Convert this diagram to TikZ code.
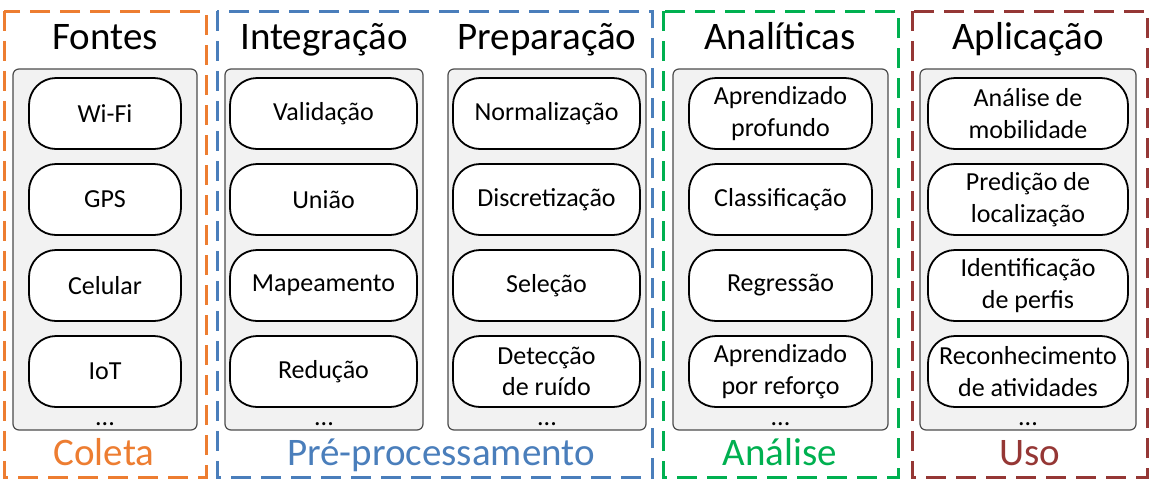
\documentclass[tikz,border=0pt]{standalone}
\usepackage{fontspec}
\setmainfont{Carlito}
\definecolor{corange}{HTML}{ED7D31}
\definecolor{cblue}{HTML}{4A7EBB}
\definecolor{cgreen}{HTML}{00B050}
\definecolor{cred}{HTML}{953735}
\definecolor{panelfill}{HTML}{F2F2F2}
\begin{document}
\begin{tikzpicture}[x=1pt,y=-1pt,
 group/.style={line width=3pt, dash pattern=on 20pt off 10pt},
 panel/.style={draw=black!70, fill=panelfill, line width=1.2pt, rounded corners=6pt},
 pill/.style={draw=black, fill=white, line width=1.8pt, rounded corners=27pt, minimum height=71pt, align=center, inner sep=0pt, font=\fontsize{26}{31.5}\selectfont},
 title/.style={anchor=base, font=\fontsize{39}{47}\selectfont},
 dots/.style={anchor=base, font=\fontsize{26}{31}\selectfont}]
\useasboundingbox (0,0) rectangle (1151,499);

% dashed groups
\draw[group, draw=corange] (4,11) rectangle (206,477);
\draw[group, draw=cblue] (217,11) rectangle (652,477);
\draw[group, draw=cgreen] (663,11) rectangle (898,477);
\draw[group, draw=cred] (912,11) rectangle (1147,477);

% panels
\draw[panel] (13,69) rectangle (197,430);
\draw[panel] (225,69) rectangle (423,430);
\draw[panel] (448,69) rectangle (646,430);
\draw[panel] (673,69) rectangle (888,430);
\draw[panel] (920,69) rectangle (1136,430);

% titles
\node[title] (tFontes) at (105,49) {Fontes};
\node[title] (tInteg) at (324,49) {Integração};
\node[title] (tPrep) at (547,49) {Preparação};
\node[title] (tAnal) at (780,49) {Analíticas};
\node[title] (tApl) at (1028,49) {Aplicação};

% bottom labels
\node[title, text=corange] (bColeta) at (104,465) {Coleta};
\node[title, text=cblue] (bPre) at (441,465) {Pré-processamento};
\node[title, text=cgreen] (bAnalise) at (780,465) {Análise};
\node[title, text=cred] (bUso) at (1030,465) {Uso};

% pills: Fontes
\node[pill, minimum width=152pt] (f1) at (105,113.5) {Wi-Fi};
\node[pill, minimum width=152pt] (f2) at (105,199.5) {GPS};
\node[pill, minimum width=152pt] (f3) at (105,285.5) {Celular};
\node[pill, minimum width=152pt] (f4) at (105,371.5) {IoT};
% Integração
\node[pill, minimum width=187pt] (i1) at (323.5,113.5) {Validação};
\node[pill, minimum width=187pt] (i2) at (323.5,199.5) {União};
\node[pill, minimum width=187pt] (i3) at (323.5,285.5) {Mapeamento};
\node[pill, minimum width=187pt] (i4) at (323.5,371.5) {Redução};
% Preparação
\node[pill, minimum width=187pt] (p1) at (546.5,113.5) {Normalização};
\node[pill, minimum width=187pt] (p2) at (546.5,199.5) {Discretização};
\node[pill, minimum width=187pt] (p3) at (546.5,285.5) {Seleção};
\node[pill, minimum width=187pt] (p4) at (546.5,371.5) {Detecção\\de ruído};
% Analíticas
\node[pill, minimum width=183pt] (a1) at (780.5,113.5) {Aprendizado\\profundo};
\node[pill, minimum width=183pt] (a2) at (780.5,199.5) {Classificação};
\node[pill, minimum width=183pt] (a3) at (780.5,285.5) {Regressão};
\node[pill, minimum width=183pt] (a4) at (780.5,371.5) {Aprendizado\\por reforço};
% Aplicação
\node[pill, minimum width=200pt] (u1) at (1028,113.5) {Análise de\\mobilidade};
\node[pill, minimum width=200pt] (u2) at (1028,199.5) {Predição de\\localização};
\node[pill, minimum width=200pt] (u3) at (1028,285.5) {Identificação\\de perfis};
\node[pill, minimum width=200pt] (u4) at (1028,371.5) {Reconhecimento\\de atividades};

% dots
\node[dots] (d1) at (105,425) {...};
\node[dots] (d2) at (324,425) {...};
\node[dots] (d3) at (547,425) {...};
\node[dots] (d4) at (780.5,425) {...};
\node[dots] (d5) at (1028,425) {...};
\end{tikzpicture}
\end{document}
